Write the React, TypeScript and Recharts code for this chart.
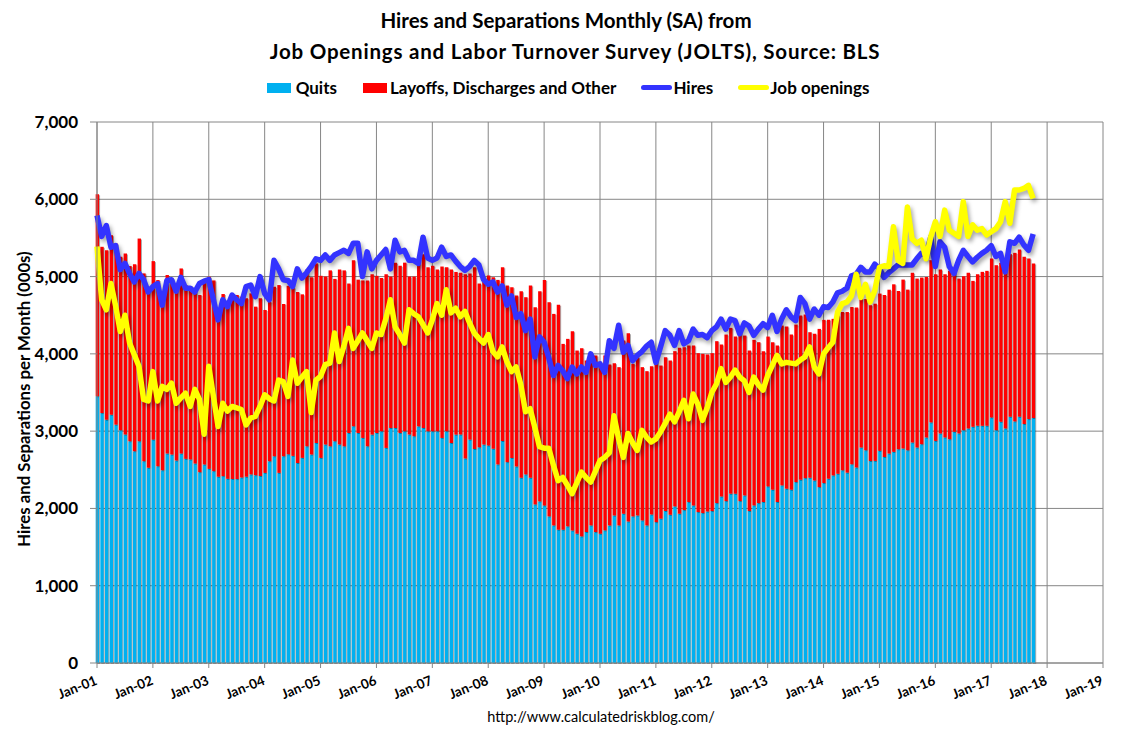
import React from "react";
import {
  ComposedChart,
  Bar,
  Line,
  XAxis,
  YAxis,
  CartesianGrid,
  Legend,
} from "recharts";

// Monthly JOLTS values (000s), Jan-2001 .. Oct-2017, one row per year.
const hires = [
  5790, 5520, 5660, 5380, 5400, 5090, 5170, 5040, 4930, 5040, 4960, 4800,
  4870, 4910, 4630, 4950, 4960, 4810, 4990, 4850, 4850, 4800, 4910, 4940,
  4960, 4700, 4440, 4700, 4610, 4760, 4700, 4650, 4870, 4890, 4740, 5000,
  4780, 4700, 5210, 5100, 4960, 4950, 4870, 5100, 4980, 5050, 5130, 5230,
  5210, 5280, 5210, 5280, 5310, 5340, 5300, 5430, 5430, 5000, 5320, 5100,
  5210, 5280, 5350, 5100, 5470, 5320, 5340, 5210, 5210, 5170, 5510, 5240,
  5210, 5240, 5380, 5260, 5280, 5200, 5130, 5080, 5130, 5210, 5150, 4960,
  4900, 4930, 4800, 4880, 4630, 4750, 4470, 4520, 4300, 4450, 3960, 4220,
  4150, 3950, 3720, 3850, 3780, 3680, 3830, 3740, 3830, 3760, 4000, 3850,
  3870, 3760, 4170, 4070, 4370, 4020, 4110, 3910, 3980, 4030, 4100, 4150,
  3890, 4090, 4300, 4240, 4110, 4300, 4130, 4170, 4320, 4240, 4250, 4210,
  4300, 4350, 4450, 4320, 4450, 4430, 4260, 4400, 4360, 4240, 4320, 4390,
  4340, 4500, 4290, 4450, 4570, 4480, 4430, 4730, 4650, 4450, 4580, 4500,
  4610, 4600, 4670, 4790, 4810, 4850, 5010, 5030, 5120, 5060, 5060, 5160,
  5100, 4990, 5050, 5100, 5150, 5150, 5150, 5150, 5230, 5300, 5280, 5510,
  5130, 5450, 5380, 5130, 5040, 5210, 5340, 5260, 5190, 5250, 5300, 5340,
  5400, 5260, 5300, 5060, 5450, 5430, 5510, 5410, 5340, 5550,
];

const jobOpenings = [
  5390, 4700, 4570, 4910, 4620, 4290, 4500, 4140, 3990, 3840, 3410, 3390,
  3770, 3390, 3580, 3540, 3620, 3360, 3430, 3490, 3320, 3540, 3410, 2960,
  3840, 3450, 3060, 3360, 3260, 3320, 3300, 3280, 3080, 3170, 3190, 3320,
  3470, 3420, 3390, 3660, 3640, 3450, 3920, 3620, 3700, 3770, 3240, 3660,
  3710, 3860, 3880, 4270, 3900, 4100, 4330, 4070, 4170, 4270, 4170, 4070,
  4270, 4250, 4450, 4700, 4350, 4250, 4140, 4570, 4520, 4480, 4380, 4270,
  4440, 4650, 4500, 4830, 4530, 4590, 4480, 4550, 4400, 4270, 4200, 4140,
  4250, 4030, 3960, 4090, 3900, 3770, 3830, 3600, 3250, 3290, 3050, 2800,
  2780, 2780, 2560, 2360, 2400, 2300, 2190, 2330, 2470, 2400, 2340, 2480,
  2620, 2660, 2720, 3200, 2900, 2660, 2970, 2850, 2750, 3010, 2920, 2860,
  2900, 2990, 3100, 3220, 3120, 3250, 3400, 3160, 3480, 3350, 3140, 3300,
  3500, 3610, 3810, 3630, 3700, 3790, 3700, 3650, 3500, 3700, 3600, 3530,
  3720, 3850, 3980, 3870, 3890, 3880, 3870, 3920, 3960, 4090, 3830, 3740,
  4000, 4080, 4150, 4540, 4650, 4670, 4750, 5030, 4730, 4900, 4670, 4820,
  5120, 5140, 5130, 5645, 5210, 5170, 5900, 5490, 5430, 5470, 5230, 5510,
  5710, 5520, 5860, 5600, 5560, 5520, 5970, 5520, 5670, 5600, 5620, 5540,
  5580, 5620, 5710, 5970, 5690, 6120, 6120, 6140, 6180, 6010,
];

const quits = [
  3450, 3234, 3148, 3213, 3084, 3011, 2955, 2869, 2740, 2869, 2611, 2525,
  2890, 2546, 2495, 2710, 2697, 2619, 2710, 2641, 2632, 2581, 2469, 2568,
  2512, 2482, 2409, 2418, 2383, 2380, 2380, 2400, 2410, 2440, 2430, 2420,
  2460, 2611, 2675, 2460, 2675, 2700, 2680, 2589, 2654, 2804, 2697, 2847,
  2654, 2826, 2804, 2869, 2826, 2804, 2976, 3062, 2976, 2912, 2804, 2955,
  2976, 2998, 2783, 3041, 3041, 2976, 2998, 2955, 2934, 3062, 3041, 2998,
  2998, 2998, 2912, 2998, 2847, 2955, 2955, 2645, 2890, 2770, 2791, 2826,
  2815, 2772, 2569, 2871, 2599, 2651, 2543, 2397, 2440, 2397, 2052, 2091,
  2039, 1897, 1780, 1724, 1724, 1768, 1716, 1673, 1638, 1694, 1780, 1694,
  1673, 1716, 1780, 1910, 1780, 1931, 1832, 1897, 1910, 1845, 1780, 1923,
  1823, 1867, 1966, 1918, 2026, 1931, 1978, 2082, 2039, 1953, 1940, 1961,
  1966, 2069, 2155, 2095, 2190, 2190, 2095, 2168, 1966, 2039, 2069, 2082,
  2285, 2242, 2082, 2298, 2255, 2242, 2341, 2371, 2392, 2397, 2362, 2276,
  2328, 2384, 2427, 2448, 2494, 2463, 2571, 2528, 2788, 2753, 2615, 2615,
  2745, 2667, 2710, 2732, 2766, 2775, 2753, 2853, 2788, 2831, 2918, 3113,
  2874, 2970, 2918, 2896, 2991, 2970, 3013, 3035, 3056, 3069, 3069, 3069,
  3178, 3013, 3121, 3035, 3186, 3126, 3186, 3091, 3156, 3169,
];

// Total separations = bar tops (quits + layoffs/discharges/other).
const totalSeparations = [
  6065, 5385, 5342, 5536, 5428, 5256, 5299, 5136, 5161, 5492, 5041, 4869,
  5200, 4955, 4740, 5020, 4976, 4869, 5105, 4890, 4877, 4826, 4761, 4955,
  4998, 4950, 4525, 4774, 4632, 4697, 4761, 4740, 4718, 4783, 4611, 4718,
  4568, 4675, 4869, 4890, 4645, 4880, 4860, 4800, 4770, 5090, 4990, 5170,
  5010, 5000, 5080, 4970, 5090, 5080, 4910, 5210, 4960, 4950, 4950, 5030,
  5010, 4980, 5030, 5000, 5180, 5140, 5180, 5000, 5000, 5170, 5290, 5120,
  5140, 5090, 5130, 5120, 5090, 5060, 5050, 5030, 5040, 5120, 4910, 4990,
  5013, 4991, 4957, 5121, 4884, 4862, 4754, 4810, 4733, 4884, 4603, 4810,
  4957, 4668, 4517, 4634, 4129, 4194, 4293, 4043, 4073, 3914, 4009, 3979,
  3849, 3979, 3862, 3879, 3828, 4173, 4267, 3871, 3957, 3828, 3776, 3841,
  4035, 3849, 3957, 3914, 4035, 4078, 4086, 4108, 4108, 4009, 4000, 3991,
  4009, 4164, 4121, 4250, 4336, 4224, 4293, 4237, 4043, 4181, 4151, 4035,
  4224, 4151, 4108, 4366, 4353, 4250, 4379, 4496, 4509, 4280, 4259, 4323,
  4440, 4440, 4453, 4496, 4541, 4541, 4606, 4600, 4720, 4710, 4628, 4649,
  4780, 4760, 4830, 4900, 4814, 4961, 4831, 5048, 4974, 4987, 4996, 5212,
  5030, 5091, 5030, 5074, 5082, 4974, 5004, 5048, 4944, 5030, 5061, 5074,
  5234, 5147, 5178, 5234, 5290, 5307, 5351, 5255, 5234, 5169,
];

const yearLabels = [
  "Jan-01", "Jan-02", "Jan-03", "Jan-04", "Jan-05", "Jan-06", "Jan-07",
  "Jan-08", "Jan-09", "Jan-10", "Jan-11", "Jan-12", "Jan-13", "Jan-14",
  "Jan-15", "Jan-16", "Jan-17", "Jan-18", "Jan-19",
];
const yTicks = [0, 1000, 2000, 3000, 4000, 5000, 6000, 7000];

const QUITS_COLOR = "#00B0F0";
const LAYOFF_COLOR = "#FF0000";
const HIRES_COLOR = "#3333FF";
const OPENINGS_COLOR = "#FFFF00";
const GRID_COLOR = "#868686";
const FONT = "Lato, 'Liberation Sans', Arial, sans-serif";

const data = hires.map((h, i) => ({
  m: i,
  quits: quits[i],
  layoffs: totalSeparations[i] - quits[i],
  hires: h,
  openings: jobOpenings[i],
}));

const xTicks = yearLabels.map((_, k) => k * 12);

// Excel-style soft shadows on bars and lines.
const SHADOW_CSS = `
.jolts .recharts-bar-rectangle path { filter: drop-shadow(1.4px 1px 0.4px rgba(0,0,0,0.32)); }
.jolts .recharts-line-curve { filter: drop-shadow(2px 3px 2px rgba(0,0,0,0.35)); }
`;

function MonthTick(props: any): React.ReactElement {
  const { x, y, payload } = props;
  return (
    <g transform={`translate(${x + 1},${y + 14}) rotate(-22)`}>
      <text
        x={0}
        y={0}
        textAnchor="end"
        fontFamily={FONT}
        fontWeight={700}
        fontSize={13.5}
        fill="#000"
      >
        {yearLabels[Math.round(payload.value / 12)]}
      </text>
    </g>
  );
}

function ValueTick(props: any): React.ReactElement {
  const { x, y, payload } = props;
  return (
    <text
      x={x - 10}
      y={y}
      dy={6}
      textAnchor="end"
      fontFamily={FONT}
      fontWeight={700}
      fontSize={17}
      fill="#000"
    >
      {payload.value.toLocaleString("en-US")}
    </text>
  );
}

function LegendRow(): React.ReactElement {
  const item = (
    swatch: React.ReactNode,
    label: string,
    textGap: number,
    gap: number
  ) => (
    <div style={{ display: "flex", alignItems: "center", marginRight: gap }}>
      {swatch}
      <span style={{ marginLeft: textGap }}>{label}</span>
    </div>
  );
  const box = (c: string) => (
    <div style={{ width: 24, height: 10, background: c }} />
  );
  const bar = (c: string) => (
    <div style={{ width: 31, height: 5, borderRadius: 3, background: c }} />
  );
  return (
    <div
      style={{
        display: "flex",
        justifyContent: "center",
        width: 1130,
        fontFamily: FONT,
        fontWeight: 700,
        fontSize: 17,
        color: "#000",
        paddingLeft: 6,
        boxSizing: "border-box",
      }}
    >
      {item(box(QUITS_COLOR), "Quits", 5, 26)}
      {item(box(LAYOFF_COLOR), "Layoffs, Discharges and Other", 3, 25)}
      {item(bar(HIRES_COLOR), "Hires", 1, 25)}
      {item(bar(OPENINGS_COLOR), "Job openings", 1, 0)}
    </div>
  );
}

export default function App(): React.ReactElement {
  return (
    <div
      className="jolts"
      style={{
        position: "absolute",
        left: 0,
        top: 0,
        width: 1130,
        height: 741,
        background: "#fff",
        fontFamily: FONT,
      }}
    >
      <style>{SHADOW_CSS}</style>
      <div
        style={{
          position: "absolute",
          top: 5,
          left: 0,
          width: 1130,
          textAlign: "center",
          fontWeight: 700,
          fontSize: 20.5,
          lineHeight: "31px",
          color: "#000",
        }}
      >
        <div style={{ paddingLeft: 2 }}>Hires and Separations Monthly (SA) from</div>
        <div style={{ paddingLeft: 20, letterSpacing: 0.8 }}>
          Job Openings and Labor Turnover Survey (JOLTS), Source: BLS
        </div>
      </div>
      <div
        style={{
          position: "absolute",
          left: 23,
          top: 399,
          transform: "translate(-50%, -50%) rotate(-90deg)",
          transformOrigin: "center",
          whiteSpace: "nowrap",
          fontWeight: 700,
          fontSize: 16.8,
          color: "#000",
        }}
      >
        Hires and Separations per Month (000s)
      </div>
      <ComposedChart
        width={1130}
        height={741}
        data={data}
        margin={{ top: 122, right: 27, left: 0, bottom: 0 }}
        barCategoryGap={0}
        barGap={0}
      >
        <CartesianGrid stroke={GRID_COLOR} strokeWidth={1} />
        <XAxis
          type="number"
          dataKey="m"
          domain={[0, 216]}
          ticks={xTicks}
          interval={0}
          height={78}
          tick={<MonthTick />}
          tickSize={5}
          tickLine={{ stroke: GRID_COLOR }}
          axisLine={{ stroke: GRID_COLOR }}
        />
        <YAxis
          type="number"
          domain={[0, 7000]}
          ticks={yTicks}
          interval={0}
          width={97}
          tick={<ValueTick />}
          tickSize={7}
          tickLine={{ stroke: GRID_COLOR }}
          axisLine={{ stroke: GRID_COLOR }}
        />
        <Legend
          verticalAlign="middle"
          layout="horizontal"
          wrapperStyle={{ top: 77, left: 0, width: 1130 }}
          content={<LegendRow />}
        />
        <Bar
          dataKey="quits"
          name="Quits"
          stackId="sep"
          fill={QUITS_COLOR}
          barSize={3.4}
          isAnimationActive={false}
        />
        <Bar
          dataKey="layoffs"
          name="Layoffs, Discharges and Other"
          stackId="sep"
          fill={LAYOFF_COLOR}
          barSize={3.4}
          isAnimationActive={false}
        />
        <Line
          type="linear"
          dataKey="hires"
          name="Hires"
          stroke={HIRES_COLOR}
          strokeWidth={5.5}
          strokeLinejoin="round"
          dot={false}
          activeDot={false}
          isAnimationActive={false}
        />
        <Line
          type="linear"
          dataKey="openings"
          name="Job openings"
          stroke={OPENINGS_COLOR}
          strokeWidth={5.5}
          strokeLinejoin="round"
          dot={false}
          activeDot={false}
          isAnimationActive={false}
        />
      </ComposedChart>
      <div
        style={{
          position: "absolute",
          top: 708,
          left: 0,
          width: 1130,
          paddingLeft: 72,
          boxSizing: "border-box",
          textAlign: "center",
          fontSize: 14.5,
          color: "#000",
        }}
      >
        http://www.calculatedriskblog.com/
      </div>
    </div>
  );
}
